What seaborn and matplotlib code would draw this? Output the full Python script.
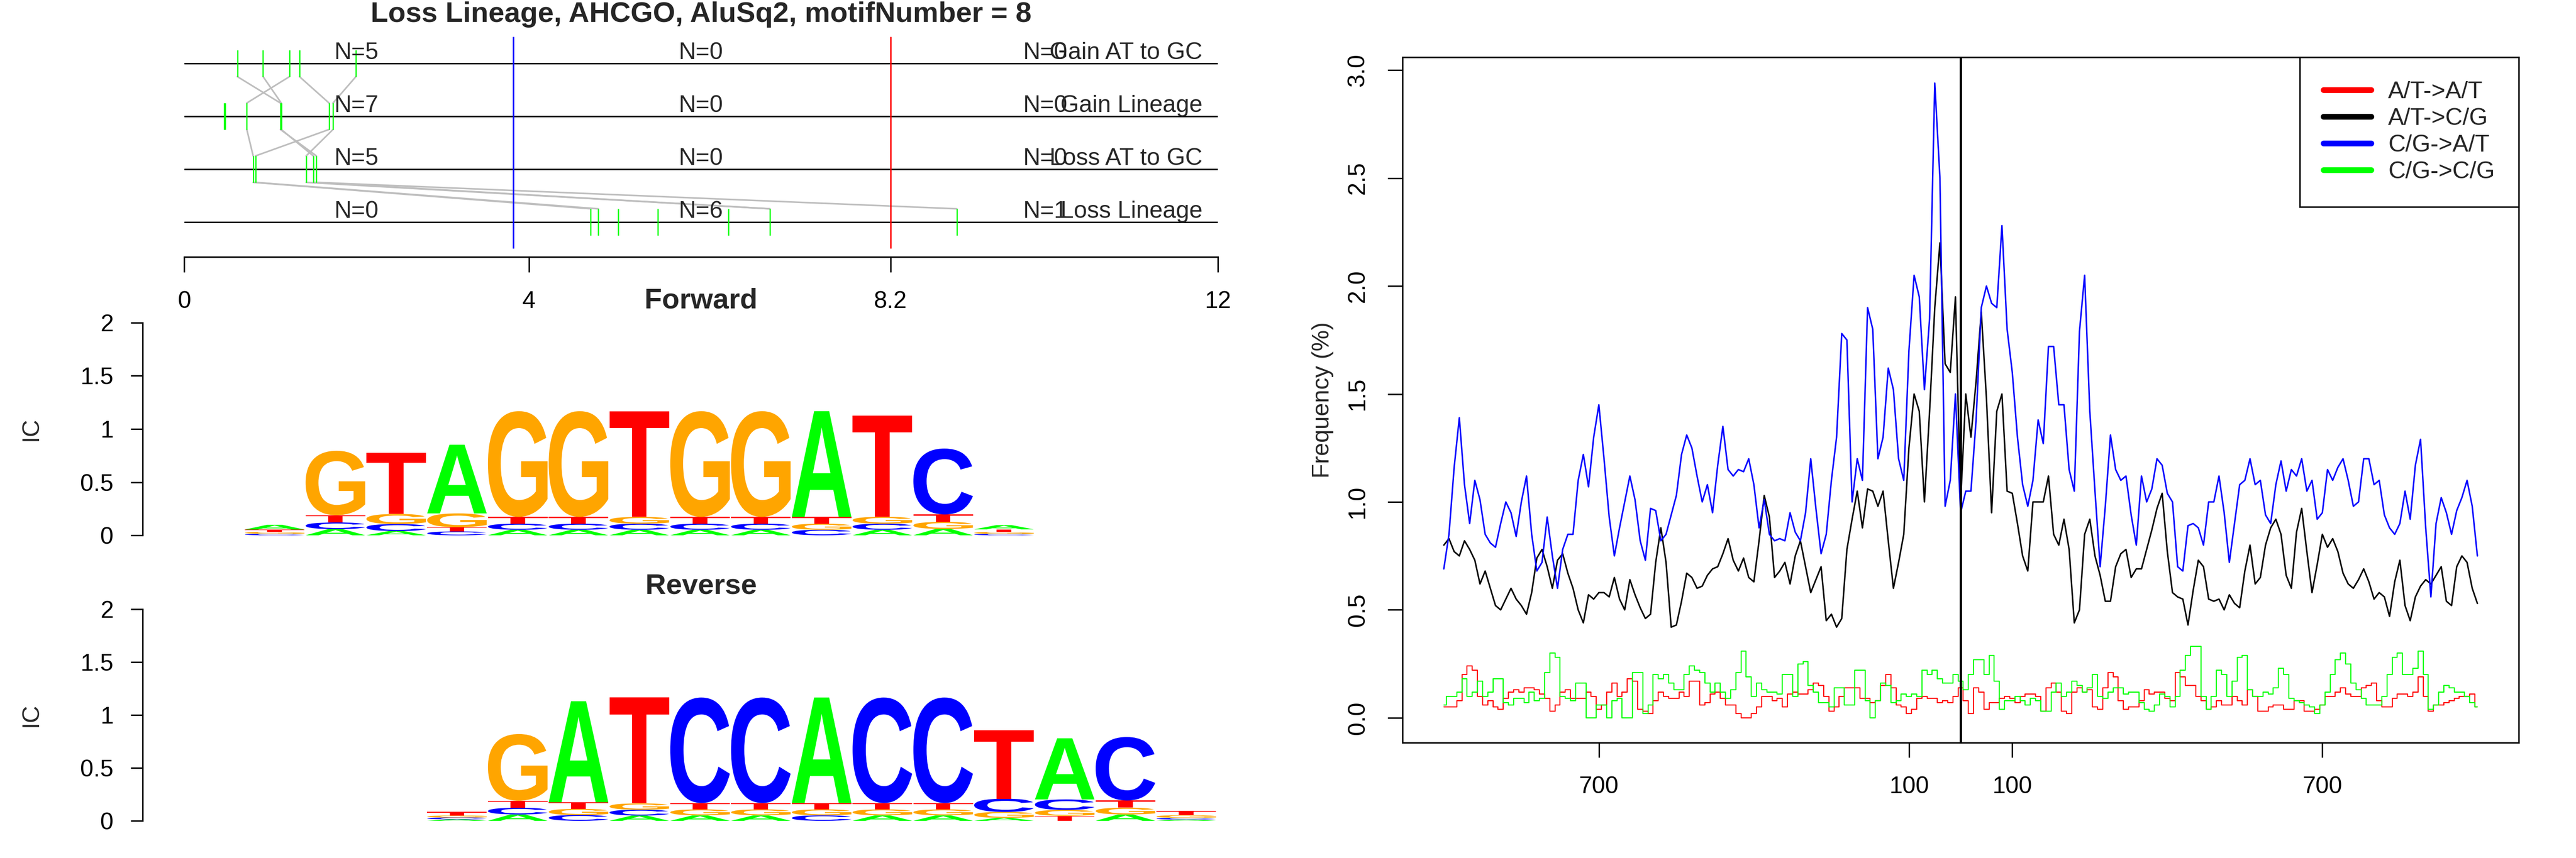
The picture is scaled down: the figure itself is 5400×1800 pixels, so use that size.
import numpy as np
import pandas as pd
import matplotlib
matplotlib.use('Agg')
import matplotlib.pyplot as plt
import seaborn as sns
from matplotlib.textpath import TextPath
from matplotlib.font_manager import FontProperties
from matplotlib.patches import PathPatch
from matplotlib.transforms import Affine2D
from matplotlib.lines import Line2D

sns.set_style('white')
plt.rcParams['font.family'] = ['Liberation Sans', 'DejaVu Sans']

# ---------------- data ----------------
title = 'Loss Lineage, AHCGO, AluSq2, motifNumber = 8'
track_names = ['Gain AT to GC', 'Gain Lineage', 'Loss AT to GC', 'Loss Lineage']
track_sites = [
    [0.615, 0.914, 1.221, 1.336, 1.992],
    [0.46, 0.475, 0.725, 1.115, 1.125, 1.68, 1.726],
    [0.799, 0.826, 1.414, 1.497, 1.533],
    [4.719, 4.806, 5.040, 5.495, 6.317, 6.798, 8.969],
]
links_from = [[0.615, 0.914, 1.221, 1.336, 1.992],
              [0.725, 1.115, 1.125, 1.68, 1.726],
              [0.799, 0.826, 1.414, 1.497, 1.533]]
links_to = [[1.115, 1.125, 0.725, 1.68, 1.726],
            [0.799, 1.533, 1.497, 0.826, 1.414],
            [4.719, 4.806, 6.798, 6.798, 8.969]]
motif_start = 3.82
motif_end = 8.2
track_ticks = [0, 4, 8.2, 12]
track_tick_labels = ['0', '4', '8.2', '12']

# information content per base (13 motif positions)
fwd_A = [0.045, 0.058, 0.040, 0.646, 0.052, 0.052, 0.052, 0.052, 0.052, 0.995, 0.052, 0.060, 0.040]
fwd_C = [0.014, 0.063, 0.066, 0.036, 0.057, 0.057, 0.057, 0.057, 0.057, 0.052, 0.057, 0.620, 0.013]
fwd_G = [0.018, 0.606, 0.095, 0.130, 0.995, 0.995, 0.064, 0.995, 0.995, 0.057, 0.065, 0.066, 0.019]
fwd_T = [0.022, 0.068, 0.575, 0.040, 0.064, 0.064, 0.995, 0.064, 0.064, 0.064, 0.950, 0.070, 0.024]

rev_A = [0.014, 0.060, 0.955, 0.050, 0.052, 0.052, 0.997, 0.052, 0.052, 0.028, 0.578, 0.060, 0.012]
rev_C = [0.017, 0.063, 0.055, 0.055, 0.997, 0.997, 0.052, 0.997, 0.997, 0.125, 0.099, 0.600, 0.016]
rev_G = [0.019, 0.630, 0.058, 0.060, 0.056, 0.056, 0.056, 0.056, 0.056, 0.056, 0.056, 0.064, 0.025]
rev_T = [0.034, 0.067, 0.062, 1.000, 0.060, 0.060, 0.060, 0.060, 0.060, 0.645, 0.047, 0.068, 0.040]

positions = list(range(-1000, 1001, 10))
at_at = [0.05, 0.05, 0.05, 0.08, 0.20, 0.24, 0.22, 0.10, 0.06, 0.08,
         0.05, 0.04, 0.09, 0.12, 0.13, 0.12, 0.14, 0.14, 0.13, 0.11,
         0.09, 0.03, 0.06, 0.12, 0.13, 0.09, 0.09, 0.09, 0.12, 0.10,
         0.04, 0.06, 0.12, 0.16, 0.10, 0.12, 0.18, 0.17, 0.04, 0.03,
         0.02, 0.08, 0.12, 0.10, 0.09, 0.09, 0.12, 0.10, 0.17, 0.17,
         0.06, 0.07, 0.11, 0.12, 0.09, 0.06, 0.06, 0.02, 0.00, 0.00,
         0.02, 0.05, 0.10, 0.10, 0.08, 0.09, 0.05, 0.11, 0.12, 0.11,
         0.11, 0.13, 0.16, 0.15, 0.10, 0.03, 0.05, 0.10, 0.14, 0.14,
         0.14, 0.09, 0.09, 0.07, 0.08, 0.15, 0.20, 0.14, 0.06, 0.05,
         0.02, 0.04, 0.09, 0.10, 0.09, 0.09, 0.07, 0.08, 0.07, 0.10,
         0.14, 0.08, 0.02, 0.14, 0.12, 0.04, 0.07, 0.07, 0.09, 0.10,
         0.09, 0.07, 0.10, 0.11, 0.11, 0.10, 0.03, 0.14, 0.16, 0.12,
         0.03, 0.02, 0.12, 0.14, 0.12, 0.13, 0.05, 0.04, 0.14, 0.21,
         0.19, 0.08, 0.04, 0.05, 0.05, 0.08, 0.13, 0.11, 0.12, 0.12,
         0.09, 0.08, 0.21, 0.19, 0.15, 0.15, 0.10, 0.08, 0.04, 0.05,
         0.08, 0.06, 0.06, 0.10, 0.08, 0.06, 0.13, 0.10, 0.03, 0.03,
         0.05, 0.06, 0.06, 0.04, 0.04, 0.08, 0.08, 0.03, 0.03, 0.04,
         0.06, 0.10, 0.10, 0.12, 0.14, 0.11, 0.10, 0.10, 0.14, 0.15,
         0.16, 0.08, 0.05, 0.05, 0.09, 0.11, 0.11, 0.10, 0.12, 0.19,
         0.10, 0.03, 0.06, 0.06, 0.07, 0.08, 0.09, 0.10, 0.10, 0.11, 0.05]
at_cg = [0.80, 0.83, 0.77, 0.75, 0.82, 0.78, 0.73, 0.62, 0.68, 0.60,
         0.52, 0.50, 0.55, 0.60, 0.55, 0.52, 0.48, 0.58, 0.74, 0.78,
         0.70, 0.60, 0.73, 0.76, 0.67, 0.60, 0.50, 0.44, 0.57, 0.55,
         0.58, 0.58, 0.56, 0.65, 0.55, 0.50, 0.64, 0.57, 0.51, 0.46,
         0.48, 0.72, 0.88, 0.72, 0.42, 0.43, 0.54, 0.67, 0.65, 0.60,
         0.61, 0.66, 0.69, 0.70, 0.76, 0.83, 0.73, 0.68, 0.74, 0.65,
         0.63, 0.82, 1.03, 0.93, 0.65, 0.68, 0.72, 0.62, 0.75, 0.82,
         0.70, 0.58, 0.64, 0.70, 0.45, 0.48, 0.42, 0.46, 0.78, 0.92,
         1.05, 0.88, 1.06, 1.05, 0.98, 1.05, 0.82, 0.60, 0.72, 0.85,
         1.25, 1.50, 1.42, 1.00, 1.42, 1.90, 2.20, 1.64, 1.60, 1.95,
         1.00, 1.50, 1.30, 1.56, 1.88, 1.48, 0.95, 1.42, 1.50, 1.05,
         1.04, 0.90, 0.75, 0.68, 1.00, 1.00, 1.00, 1.12, 0.85, 0.80,
         0.92, 0.78, 0.44, 0.50, 0.85, 0.92, 0.75, 0.66, 0.54, 0.54,
         0.70, 0.76, 0.78, 0.65, 0.69, 0.69, 0.78, 0.87, 0.97, 1.04,
         0.77, 0.58, 0.56, 0.55, 0.43, 0.59, 0.73, 0.70, 0.55, 0.54,
         0.55, 0.50, 0.57, 0.53, 0.51, 0.68, 0.80, 0.62, 0.65, 0.80,
         0.88, 0.92, 0.85, 0.66, 0.60, 0.86, 0.97, 0.77, 0.58, 0.71,
         0.85, 0.79, 0.83, 0.77, 0.67, 0.62, 0.60, 0.64, 0.69, 0.63,
         0.55, 0.58, 0.56, 0.47, 0.63, 0.73, 0.52, 0.45, 0.56, 0.61,
         0.64, 0.62, 0.66, 0.70, 0.54, 0.52, 0.70, 0.75, 0.72, 0.60, 0.53]
cg_at = [0.69, 0.85, 1.16, 1.39, 1.08, 0.90, 1.10, 1.01, 0.85, 0.81,
         0.79, 0.90, 1.00, 0.95, 0.84, 1.00, 1.12, 0.85, 0.68, 0.72,
         0.93, 0.75, 0.60, 0.78, 0.85, 0.85, 1.10, 1.22, 1.07, 1.30,
         1.45, 1.20, 0.93, 0.75, 0.88, 1.00, 1.12, 1.01, 0.82, 0.73,
         0.97, 0.96, 0.82, 0.85, 0.94, 1.03, 1.22, 1.31, 1.25, 1.12,
         1.00, 1.08, 0.95, 1.17, 1.35, 1.15, 1.12, 1.15, 1.14, 1.20,
         1.08, 0.88, 1.01, 0.85, 0.82, 0.83, 0.82, 0.95, 0.86, 0.82,
         0.95, 1.20, 0.97, 0.76, 0.85, 1.10, 1.30, 1.78, 1.75, 1.00,
         1.20, 1.10, 1.90, 1.80, 1.20, 1.30, 1.62, 1.52, 1.20, 1.10,
         1.70, 2.05, 1.95, 1.52, 1.85, 2.94, 2.50, 0.98, 1.10, 1.50,
         0.95, 1.05, 1.05, 1.38, 1.90, 2.00, 1.92, 1.90, 2.28, 1.80,
         1.60, 1.30, 1.08, 0.98, 1.10, 1.38, 1.27, 1.72, 1.72, 1.45,
         1.45, 1.15, 1.05, 1.79, 2.05, 1.42, 1.05, 0.70, 0.98, 1.31,
         1.15, 1.10, 1.12, 0.94, 0.80, 1.12, 1.00, 1.06, 1.20, 1.17,
         1.04, 1.00, 0.70, 0.68, 0.89, 0.90, 0.88, 0.80, 1.00, 1.00,
         1.12, 0.95, 0.72, 0.90, 1.08, 1.10, 1.20, 1.08, 1.10, 0.94,
         0.90, 1.08, 1.19, 1.05, 1.15, 1.12, 1.20, 1.05, 1.10, 0.92,
         0.95, 1.15, 1.10, 1.16, 1.20, 1.10, 0.98, 1.00, 1.20, 1.20,
         1.08, 1.10, 0.94, 0.88, 0.85, 0.90, 1.05, 0.92, 1.17, 1.29,
         0.88, 0.56, 0.90, 1.02, 0.95, 0.85, 0.96, 1.02, 1.10, 0.98, 0.75]
cg_cg = [0.06, 0.10, 0.10, 0.12, 0.18, 0.10, 0.12, 0.17, 0.10, 0.12,
         0.18, 0.18, 0.07, 0.06, 0.09, 0.09, 0.07, 0.12, 0.08, 0.09,
         0.21, 0.30, 0.28, 0.10, 0.09, 0.08, 0.16, 0.16, 0.00, 0.00,
         0.06, 0.06, 0.00, 0.08, 0.09, 0.00, 0.00, 0.21, 0.21, 0.02,
         0.06, 0.20, 0.18, 0.20, 0.16, 0.13, 0.13, 0.20, 0.24, 0.22,
         0.21, 0.16, 0.12, 0.16, 0.12, 0.09, 0.13, 0.21, 0.31, 0.19,
         0.10, 0.16, 0.13, 0.12, 0.12, 0.11, 0.20, 0.20, 0.10, 0.25,
         0.26, 0.15, 0.12, 0.07, 0.07, 0.05, 0.14, 0.14, 0.06, 0.06,
         0.22, 0.22, 0.08, 0.00, 0.08, 0.16, 0.15, 0.07, 0.08, 0.11,
         0.10, 0.11, 0.10, 0.22, 0.20, 0.22, 0.18, 0.16, 0.16, 0.20,
         0.17, 0.13, 0.20, 0.27, 0.27, 0.20, 0.29, 0.17, 0.04, 0.08,
         0.08, 0.10, 0.08, 0.06, 0.09, 0.08, 0.03, 0.03, 0.12, 0.16,
         0.10, 0.12, 0.17, 0.15, 0.12, 0.14, 0.20, 0.10, 0.09, 0.12,
         0.14, 0.14, 0.11, 0.12, 0.12, 0.07, 0.04, 0.03, 0.06, 0.11,
         0.10, 0.05, 0.10, 0.22, 0.29, 0.33, 0.33, 0.10, 0.04, 0.10,
         0.22, 0.20, 0.10, 0.17, 0.28, 0.29, 0.13, 0.10, 0.10, 0.12,
         0.11, 0.14, 0.23, 0.20, 0.09, 0.08, 0.07, 0.06, 0.05, 0.02,
         0.06, 0.12, 0.20, 0.27, 0.30, 0.25, 0.16, 0.13, 0.09, 0.06,
         0.06, 0.06, 0.10, 0.20, 0.28, 0.30, 0.20, 0.20, 0.23, 0.31,
         0.20, 0.04, 0.06, 0.12, 0.15, 0.14, 0.12, 0.12, 0.10, 0.07, 0.05]
series_names = ['A/T->A/T', 'A/T->C/G', 'C/G->A/T', 'C/G->C/G']
series_colors = ['#FF0000', '#000000', '#0000FF', '#00FF00']

base_colors = {'A': '#00FF00', 'C': '#0000FF', 'G': '#FFA500', 'T': '#FF0000'}
letter_font = FontProperties(family='Liberation Sans', weight='bold')

fig = plt.figure(figsize=(18, 6), dpi=300)

# ---------------- lineage tracks ----------------
ax0 = fig.add_axes([0.07157, 0.70056, 0.40121, 0.26256])
ax0.set_xlim(0, 12)
ax0.set_ylim(0.34, 4.6)
for s in ['top', 'right', 'left']:
    ax0.spines[s].set_visible(False)
ax0.spines['bottom'].set_linewidth(0.75)
ax0.spines['bottom'].set_color('black')
ax0.set_yticks([])
ax0.set_xticks(track_ticks)
ax0.set_xticklabels(track_tick_labels)
ax0.tick_params(axis='x', bottom=True, length=7.6, width=0.75, pad=9.5, labelsize=12, colors='black')

track_y = [4, 3, 2, 1]
for i, name in enumerate(track_names):
    y = track_y[i]
    ax0.hlines(y, 0, 12, color='black', lw=0.75, zorder=2)
    if i < 3:
        for a, b in zip(links_from[i], links_to[i]):
            ax0.plot([a, b], [y - 0.25, y - 0.75], color='#BEBEBE', lw=0.8, zorder=1)
    ax0.vlines(track_sites[i], y - 0.25, y + 0.25, color='#00FF00', lw=0.6, zorder=3)
    counts, _ = np.histogram(track_sites[i], bins=[0, motif_start, motif_end, 12])
    for cx, n in zip([2, 6, 10], counts):
        ax0.text(cx, y + 0.08, f'N={n}', ha='center', va='baseline', fontsize=12, zorder=5)
    ax0.text(11.82, y + 0.08, name, ha='right', va='baseline', fontsize=12, zorder=5)

ax0.vlines(motif_start, 0.5, 4.5, color='#0000FF', lw=0.75, zorder=4)
ax0.vlines(motif_end, 0.5, 4.5, color='#FF0000', lw=0.75, zorder=4)
fig.text(0.2722, 1 - 30 / 1800, title, ha='center', va='center', fontsize=14.4, fontweight='bold')


# ---------------- sequence logos ----------------
def draw_letter(ax, letter, x0, y0, w, h, color):
    tp = TextPath((0, 0), letter, size=1, prop=letter_font)
    bb = tp.get_extents()
    tr = Affine2D().translate(-bb.x0, -bb.y0).scale(w / bb.width, h / bb.height).translate(x0, y0)
    ax.add_patch(PathPatch(tr.transform_path(tp), facecolor=color, edgecolor='none', lw=0))


def draw_logo(ax, A, C, G, T, offset):
    cols = {'A': A, 'C': C, 'G': G, 'T': T}
    for i in range(len(A)):
        stack = sorted((cols[b][i], b) for b in 'ACGT')
        y = 0.0
        for h, b in stack:
            draw_letter(ax, b, offset + i + 0.5 + 0.01, y, 0.98, h, base_colors[b])
            y += h


def style_logo(ax):
    ax.set_xlim(-1.172, 16.575)
    ax.set_ylim(0, 2)
    for s in ['top', 'right', 'bottom']:
        ax.spines[s].set_visible(False)
    ax.spines['left'].set_linewidth(0.75)
    ax.spines['left'].set_color('black')
    ax.set_xticks([])
    ax.set_yticks([0, 0.5, 1, 1.5, 2])
    ax.set_yticklabels(['0', '0.5', '1', '1.5', '2'])
    ax.tick_params(axis='y', left=True, length=6, width=0.75, pad=8.6, labelsize=12, colors='black')
    ax.set_ylabel('IC', fontsize=12)
    ax.yaxis.set_label_coords(-0.093, 0.5)


ax1 = fig.add_axes([0.05537, 0.37611, 0.41870, 0.24778])
style_logo(ax1)
draw_logo(ax1, fwd_A, fwd_C, fwd_G, fwd_T, 0)
fig.text(0.2722, 1 - 631 / 1800, 'Forward', ha='center', va='center', fontsize=14.4, fontweight='bold')

ax2 = fig.add_axes([0.05537, 0.04333, 0.41870, 0.24667])
style_logo(ax2)
draw_logo(ax2, rev_A, rev_C, rev_G, rev_T, 3)
fig.text(0.2722, 1 - 1230 / 1800, 'Reverse', ha='center', va='center', fontsize=14.4, fontweight='bold')

# ---------------- mutation frequency ----------------
ax3 = fig.add_axes([0.54444, 0.13444, 0.43333, 0.79889])
for vals, c, name in zip([at_at, at_cg, cg_at, cg_cg], series_colors, series_names):
    step = 'steps-mid' if name in ('A/T->A/T', 'C/G->C/G') else 'default'
    lw = 0.55 if step == 'steps-mid' else 0.75
    sns.lineplot(x=positions, y=vals, color=c, lw=lw, drawstyle=step, ax=ax3)
ax3.axvline(0, color='black', lw=1.2)
ax3.set_xlim(-1080, 1080)
ax3.set_ylim(-0.115, 3.06)
ax3.set_xticks([-700, -100, 100, 700])
ax3.set_xticklabels(['700', '100', '100', '700'])
ax3.set_yticks([0, 0.5, 1.0, 1.5, 2.0, 2.5, 3.0])
ax3.set_yticklabels(['0.0', '0.5', '1.0', '1.5', '2.0', '2.5', '3.0'], rotation=90, va='center')
ax3.tick_params(bottom=True, left=True, length=7.4, width=0.75, pad=9.5, labelsize=12, colors='black')
for s in ax3.spines.values():
    s.set_linewidth(0.75)
    s.set_color('black')
ax3.set_xlabel('')
ax3.set_ylabel('Frequency (%)', fontsize=12)
ax3.yaxis.set_label_coords(-0.0615, 0.5)

handles = [Line2D([], [], color=c, lw=2.9, solid_capstyle='round') for c in series_colors]
leg = ax3.legend(handles, series_names, loc='upper right', borderaxespad=0, frameon=True,
                 fancybox=False, edgecolor='black', framealpha=1, fontsize=12,
                 handlelength=2.0, handletextpad=0.7, labelspacing=0.2, borderpad=1.0)
leg.get_frame().set_linewidth(0.75)

fig.savefig('out.png', dpi=300, facecolor='white')
